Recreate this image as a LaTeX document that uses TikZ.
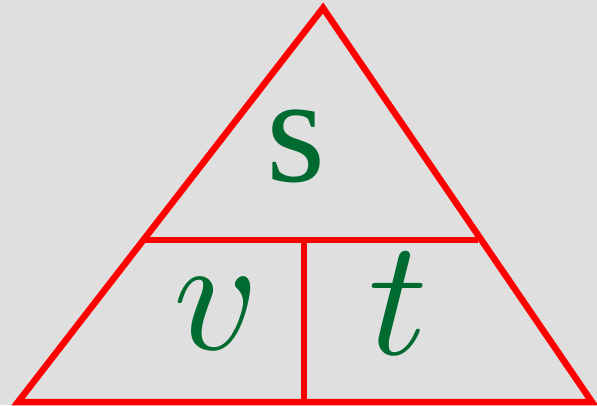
\documentclass[tikz,border=0pt]{standalone}
\usepackage{graphicx}
\usepackage{fontspec}
\setmainfont{Liberation Serif}
\definecolor{bg}{HTML}{DFDFDF}
\definecolor{lettergreen}{HTML}{006B30}
\newcommand{\bigmath}[1]{\scalebox{16.5}{$#1$}}
\begin{document}
\begin{tikzpicture}[x=1pt,y=-1pt,
  edge/.style={draw=red,line width=6.5pt,line cap=butt,line join=miter},
  letter/.style={text=lettergreen,inner sep=0pt,font=\fontsize{152}{152}\selectfont},
  mletter/.style={text=lettergreen,inner sep=0pt}]
\fill[bg] (0,0) rectangle (597,405);
\useasboundingbox (0,0) rectangle (597,405);
\coordinate (A) at (323,8);
\coordinate (B) at (18,402);
\coordinate (C) at (592,402);
\coordinate (L) at (141,240);
\coordinate (R) at (478,240);
\coordinate (M) at (304,240);
\coordinate (N) at (304,402);
\draw[edge] (B) -- (A) -- (C) -- cycle;
\draw[edge] (L) -- (R);
\draw[edge] (M) -- (N);
\node[letter] (s) at (296,146) {s};
\node[mletter] (v) at (216,314) {\bigmath{v}};
\node[mletter] (t) at (398,304) {\bigmath{t}};
\end{tikzpicture}
\end{document}
